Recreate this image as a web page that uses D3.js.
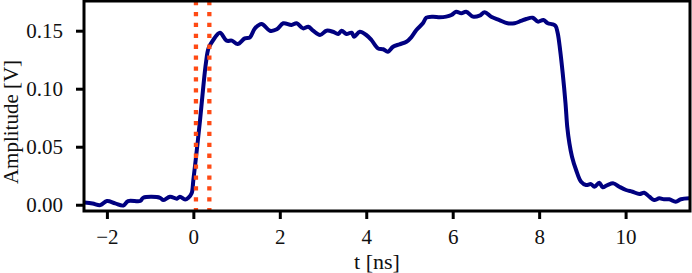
<!DOCTYPE html>
<html>
<head>
<meta charset="utf-8">
<script src="https://cdn.jsdelivr.net/npm/d3@7"></script>
<style>
  body { margin: 0; background: #fff; }
  svg { display: block; }
  text { font-family: "Liberation Serif", serif; fill: #111; }
</style>
</head>
<body>
<svg width="692" height="273"></svg>
<script>
// pulse trace
const tNs = [-2.52, -2.33, -2.15, -2.0, -1.81, -1.62, -1.51, -1.23, -1.16, -0.77, -0.70, -0.54, -0.38, -0.31, -0.19, -0.115, -0.04,
  0.0, 0.08, 0.155, 0.23, 0.29, 0.35, 0.46, 0.615, 0.77, 0.89, 1.025, 1.19, 1.31, 1.425, 1.58, 1.77, 1.93, 2.08, 2.27, 2.39,
  2.54, 2.66, 2.77, 2.93, 3.08, 3.23, 3.35, 3.43, 3.54, 3.66, 3.72, 3.85, 4.0, 4.12, 4.27, 4.39, 4.50, 4.62, 4.77, 4.93, 5.04,
  5.16, 5.31, 5.39, 5.54, 5.70, 5.85, 5.97, 6.08, 6.20, 6.31, 6.47, 6.62, 6.74, 6.89, 7.08, 7.27, 7.43, 7.58, 7.70, 7.85, 7.97,
  8.10, 8.20, 8.31, 8.38, 8.43, 8.485, 8.545, 8.61, 8.65, 8.70, 8.76, 8.855, 8.97, 9.085, 9.20, 9.28, 9.39, 9.47, 9.58, 9.72,
  9.855, 10.01, 10.16, 10.32, 10.43, 10.55, 10.66, 10.78, 10.89, 11.01, 11.16, 11.28, 11.47];
const ampV = [0.0019, 0.0010, -0.0003, 0.0032, 0.0012, -0.0007, 0.0032, 0.0032, 0.0060, 0.0060, 0.0040, 0.0069, 0.0052, 0.0069, 0.0045, 0.0060, 0.0098,
  0.0213, 0.0472, 0.0730, 0.1017, 0.1219, 0.1348, 0.1420, 0.1483, 0.1414, 0.1414, 0.1385, 0.1434, 0.1443, 0.1520, 0.1558, 0.1500, 0.1512, 0.1564, 0.1549, 0.1564,
  0.1520, 0.1534, 0.1500, 0.1463, 0.1500, 0.1491, 0.1472, 0.1500, 0.1472, 0.1483, 0.1448, 0.1491, 0.1463, 0.1420, 0.1348, 0.1340, 0.1319, 0.1362, 0.1383, 0.1405, 0.1443,
  0.1506, 0.1564, 0.1612, 0.1621, 0.1616, 0.1621, 0.1635, 0.1664, 0.1650, 0.1664, 0.1621, 0.1629, 0.1659, 0.1621, 0.1592, 0.1564, 0.1564, 0.1584, 0.1601, 0.1612, 0.1578,
  0.1592, 0.1564, 0.1555, 0.1540, 0.1478, 0.1334, 0.1133, 0.0874, 0.0672, 0.0529, 0.0414, 0.0299, 0.0198, 0.0170, 0.0178, 0.0155, 0.0190, 0.0150, 0.0170, 0.0184,
  0.0155, 0.0127, 0.0112, 0.0092, 0.0103, 0.0069, 0.0041, 0.0055, 0.0047, 0.0047, 0.0026, 0.0047, 0.0055];
const markers = [0.06, 0.37];
const xTicks = [-2, 0, 2, 4, 6, 8, 10];
const yTicks = [0, 0.05, 0.10, 0.15];

const svg = d3.select('svg');
const margin = { top: 1, right: 2, bottom: 62, left: 84 };
const width = +svg.attr('width');
const height = +svg.attr('height');

const x = d3.scaleLinear().domain([-2.53, 11.49]).range([margin.left, width - margin.right]);
const y = d3.scaleLinear().domain([-0.0054, 0.1756]).range([height - margin.bottom, margin.top]);

const data = tNs.map((t, i) => ({ t, v: ampV[i] }));

svg.append('clipPath').attr('id', 'plot')
  .append('rect')
  .attr('x', margin.left).attr('y', margin.top)
  .attr('width', x.range()[1] - margin.left).attr('height', y.range()[0] - margin.top);

const line = d3.line().x(d => x(d.t)).y(d => y(d.v)).curve(d3.curveCatmullRom.alpha(0.5));

svg.append('path')
  .datum(data)
  .attr('clip-path', 'url(#plot)')
  .attr('fill', 'none')
  .attr('stroke', '#000080')
  .attr('stroke-width', 4)
  .attr('stroke-linejoin', 'round')
  .attr('d', line);

svg.append('g')
  .selectAll('line')
  .data(markers)
  .join('line')
    .attr('x1', d => x(d)).attr('x2', d => x(d))
    .attr('y1', margin.top).attr('y2', y.range()[0])
    .attr('stroke', '#ff4a14')
    .attr('stroke-width', 4.3)
    .attr('stroke-dasharray', '4.3,6.6');

const xAxis = g => g
  .attr('transform', `translate(0,${y.range()[0]})`)
  .call(d3.axisBottom(x).tickValues(xTicks).tickSize(8).tickPadding(10)
    .tickFormat(d => d < 0 ? '\u2212' + Math.abs(d) : d))
  .call(g => g.selectAll('.domain').remove())
  .call(g => g.selectAll('.tick line').attr('stroke', '#000').attr('stroke-width', 3))
  .call(g => g.selectAll('text').attr('font-size', 21).attr('fill', '#111'));

const yAxis = g => g
  .attr('transform', `translate(${margin.left},0)`)
  .call(d3.axisLeft(y).tickValues(yTicks).tickSize(8).tickPadding(13).tickFormat(d3.format('.2f')))
  .call(g => g.selectAll('.domain').remove())
  .call(g => g.selectAll('.tick line').attr('stroke', '#000').attr('stroke-width', 3))
  .call(g => g.selectAll('text').attr('font-size', 21).attr('fill', '#111'));

svg.append('g').call(xAxis);
svg.append('g').call(yAxis);

// frame
svg.append('rect')
  .attr('x', margin.left).attr('y', margin.top)
  .attr('width', x.range()[1] - margin.left)
  .attr('height', y.range()[0] - margin.top)
  .attr('fill', 'none')
  .attr('stroke', '#000')
  .attr('stroke-width', 3);

svg.append('text')
  .attr('x', 377).attr('y', 269)
  .attr('text-anchor', 'middle')
  .attr('font-size', 22)
  .text('t [ns]');

svg.append('text')
  .attr('transform', 'translate(18,122) rotate(-90)')
  .attr('text-anchor', 'middle')
  .attr('font-size', 21)
  .text('Amplitude [V]');
</script>
</body>
</html>
